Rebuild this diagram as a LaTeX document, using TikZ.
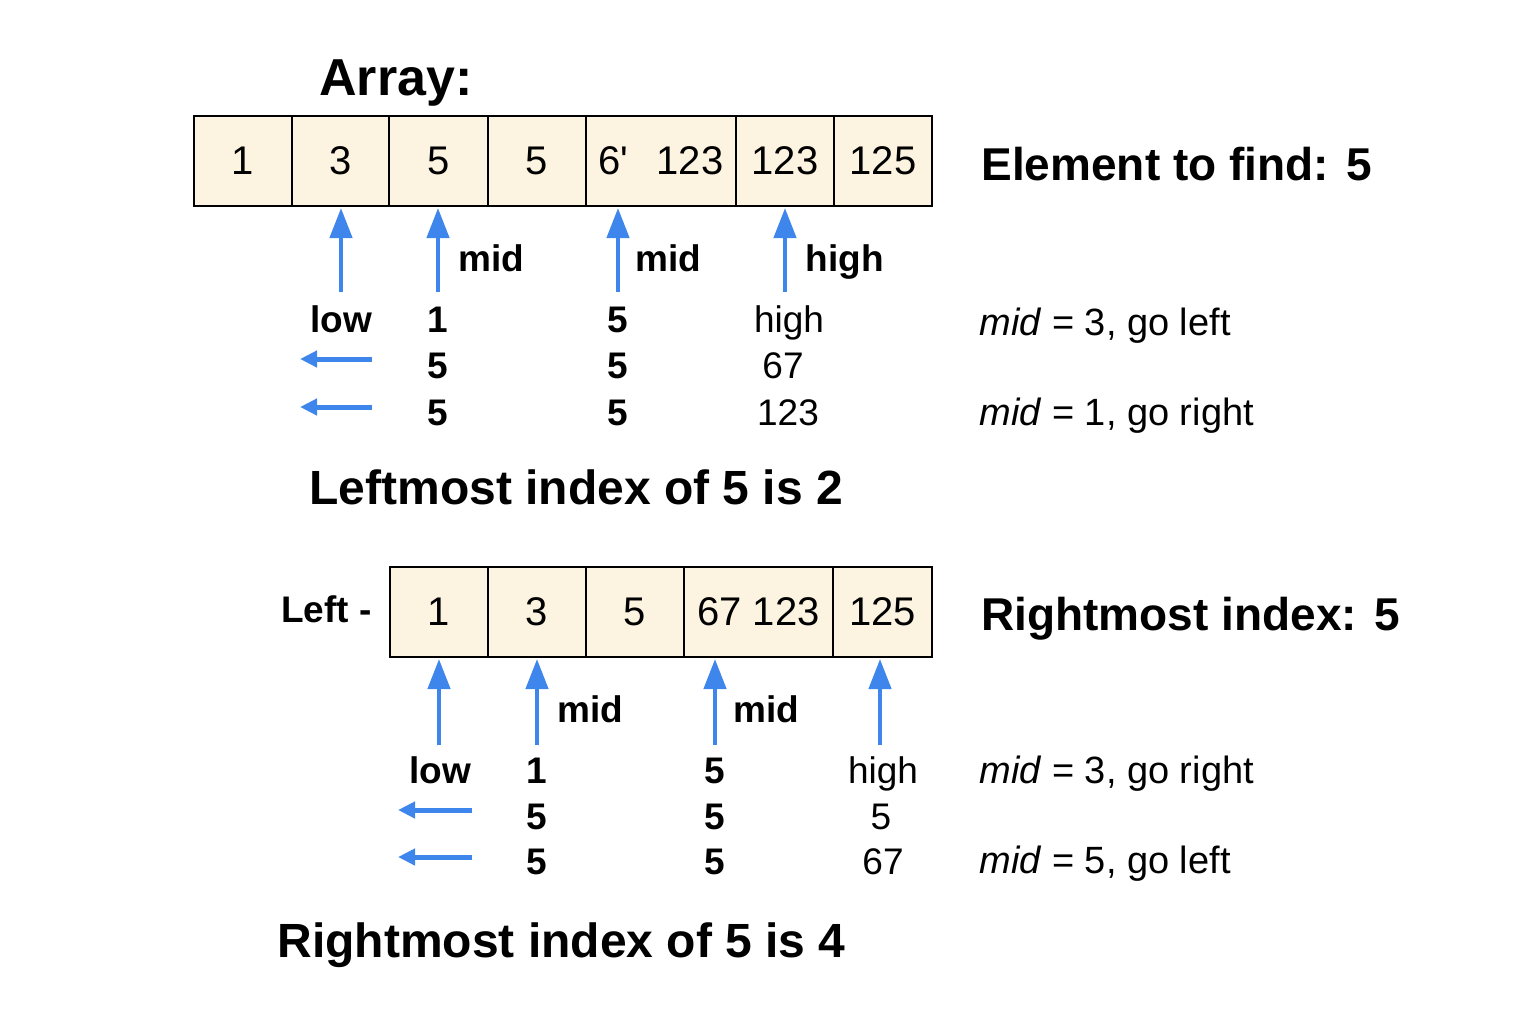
\documentclass[tikz,border=0pt]{standalone}
\usepackage{fontspec}
\setmainfont{Liberation Sans}
\newfontfamily\cellfont{Liberation Sans}
\usepackage{xcolor}
\usetikzlibrary{arrows.meta,positioning}

\definecolor{cellfill}{RGB}{253,243,225}
\definecolor{ptrblue}{RGB}{62,134,236}

\begin{document}
\begin{tikzpicture}[
  x=0.5pt,
  y=-0.5pt,
  cell/.style={
    draw,
    fill=cellfill,
    line width=0.7pt,
    inner sep=0pt,
    outer sep=0pt,
    minimum width=#1,
    minimum height=45pt,
    font=\cellfont\fontsize{20}{24}\selectfont
  },
  heading/.style={inner sep=0pt,anchor=base west,font=\bfseries\fontsize{23}{28}\selectfont},
  title/.style={inner sep=0pt,anchor=base west,font=\bfseries\fontsize{24}{29}\selectfont},
  tag/.style={inner sep=0pt,anchor=base west,font=\bfseries\fontsize{18.5}{22}\selectfont},
  val/.style={inner sep=0pt,anchor=base,font=\bfseries\fontsize{18.5}{22}\selectfont},
  plain/.style={inner sep=0pt,anchor=base,font=\fontsize{18.5}{22}\selectfont},
  note/.style={inner sep=0pt,anchor=base west,font=\fontsize{19}{23}\selectfont},
  uparrow/.style={ptrblue,line width=2.2pt,shorten >=1pt,-{Triangle[length=15pt,width=11pt]}},
  backarrow/.style={ptrblue,line width=2.5pt,-{Triangle[length=8.5pt,width=8pt]}}
]
  \useasboundingbox (0,0) rectangle (1536,1024);

  % first search: leftmost
  \node[inner sep=0pt,anchor=base,font=\bfseries\fontsize{26}{31}\selectfont] (arrtitle) at (396,95) {Array:};

  \node[cell=49pt] (a1) at (243,161) {1};
  \node[cell=48.5pt,right=0pt of a1] (a2) {3};
  \node[cell=49.5pt,right=0pt of a2] (a3) {5};
  \node[cell=49pt,right=0pt of a3] (a4) {5};
  \node[cell=75pt,right=0pt of a4] (a5) {6'\hspace{14pt}123};
  \node[cell=49pt,right=0pt of a5] (a6) {123};
  \node[cell=49pt,right=0pt of a6] (a7) {125};

  \node[heading] (target) at (981,180) {Element to find: 5};

  \coordinate (p1) at (341,292);
  \coordinate (p2) at (438,292);
  \coordinate (p3) at (618,292);
  \coordinate (p4) at (785,292);
  \draw[uparrow] (p1) -- (p1 |- a2.south);
  \draw[uparrow] (p2) -- (p2 |- a3.south);
  \draw[uparrow] (p3) -- (p3 |- a5.south);
  \draw[uparrow] (p4) -- (p4 |- a6.south);

  \node[val] (mid1) at (491,271) {mid};
  \node[val] (mid2) at (668,271) {mid};
  \node[val] (high1) at (845,271) {high};

  \node[val] (low1) at (341,332) {low};
  \node[val] (r1a) at (438,332) {1};
  \node[val] (r1b) at (618,332) {5};
  \node[plain] (r1c) at (789,332) {high};

  \node[val] (r2a) at (438,378) {5};
  \node[val] (r2b) at (618,378) {5};
  \node[plain] (r2c) at (783,378) {67};

  \node[val] (r3a) at (438,425) {5};
  \node[val] (r3b) at (618,425) {5};
  \node[plain] (r3c) at (788,425) {123};

  \coordinate (g1) at (372,359);
  \coordinate (h1) at (300,359);
  \coordinate (g2) at (372,407);
  \coordinate (h2) at (300,407);
  \draw[backarrow] (g1) -- (h1);
  \draw[backarrow] (g2) -- (h2);

  \node[note] (step1) at (979,335) {\textit{mid} = 3, go left};
  \node[note] (step2) at (979,425) {\textit{mid} = 1, go right};

  \node[title] (res1) at (309,504) {Leftmost index of 5 is 2};

  % second search: rightmost
  \node[cell=49pt] (b1) at (439,612) {1};
  \node[cell=49pt,right=0pt of b1] (b2) {3};
  \node[cell=49pt,right=0pt of b2] (b3) {5};
  \node[cell=74.5pt,right=0pt of b3] (b4) {67 123};
  \node[cell=49.5pt,right=0pt of b4] (b5) {125};

  \node[tag,anchor=base east] (lefttag) at (372,622) {Left -};
  \node[heading] (rtarget) at (981,630) {Rightmost index: 5};

  \coordinate (q1) at (439,745);
  \coordinate (q2) at (537,745);
  \coordinate (q3) at (715,745);
  \coordinate (q4) at (880,745);
  \draw[uparrow] (q1) -- (q1 |- b1.south);
  \draw[uparrow] (q2) -- (q2 |- b2.south);
  \draw[uparrow] (q3) -- (q3 |- b4.south);
  \draw[uparrow] (q4) -- (q4 |- b5.south);

  \node[val] (mid3) at (590,722) {mid};
  \node[val] (mid4) at (766,722) {mid};

  \node[val] (low2) at (440,783) {low};
  \node[val] (s1a) at (537,783) {1};
  \node[val] (s1b) at (715,783) {5};
  \node[plain] (s1c) at (883,783) {high};

  \node[val] (s2a) at (537,829) {5};
  \node[val] (s2b) at (715,829) {5};
  \node[plain] (s2c) at (881,829) {5};

  \node[val] (s3a) at (537,874) {5};
  \node[val] (s3b) at (715,874) {5};
  \node[plain] (s3c) at (883,874) {67};

  \coordinate (g3) at (472,810);
  \coordinate (h3) at (398,810);
  \coordinate (g4) at (472,857);
  \coordinate (h4) at (398,857);
  \draw[backarrow] (g3) -- (h3);
  \draw[backarrow] (g4) -- (h4);

  \node[note] (step3) at (979,783) {\textit{mid} = 3, go right};
  \node[note] (step4) at (979,873) {\textit{mid} = 5, go left};

  \node[title] (res2) at (277,957) {Rightmost index of 5 is 4};
\end{tikzpicture}
\end{document}
